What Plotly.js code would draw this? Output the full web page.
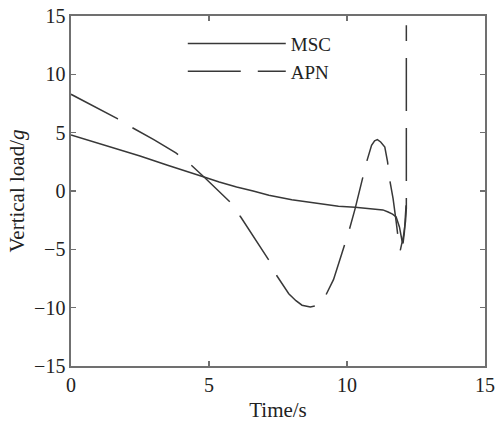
<!DOCTYPE html>
<html>
<head>
<meta charset="utf-8">
<script src="https://cdn.plot.ly/plotly-3.0.1.min.js"></script>
<style>html,body{margin:0;padding:0;background:#fff;}#chart{width:495px;height:422px;}</style>
</head>
<body>
<div id="chart"></div>
<script>
const mscTime = [0, 0.5, 1.0, 1.7, 2.5, 3.5, 4.2, 4.82, 5.37, 6.0, 6.6, 7.17, 8.0, 8.97, 9.69, 10.29, 10.89, 11.3, 11.49, 11.65, 11.78, 11.9, 11.99, 12.03, 12.08, 12.14];
const mscLoad = [4.8, 4.45, 4.1, 3.62, 3.0, 2.2, 1.7, 1.2, 0.77, 0.34, 0.0, -0.37, -0.75, -1.08, -1.3, -1.4, -1.51, -1.62, -1.8, -1.98, -2.23, -3.08, -4.22, -4.5, -3.5, -1.23];
const apnTime = [0, 0.8, 1.68, 2.18, 3.0, 3.8, 4.32, 4.82, 5.37, 5.76, 6.15, 6.65, 7.17, 7.47, 7.89, 8.15, 8.37, 8.67, 8.97, 9.23, 9.51, 9.81, 10.07, 10.29, 10.5, 10.71, 10.89, 11.0, 11.1, 11.22, 11.37, 11.47, 11.55, 11.67, 11.78, 11.85, 11.9, 11.93, 12.05, 12.12, 12.15, 12.15];
const apnLoad = [8.29, 7.3, 6.2, 5.48, 4.4, 3.26, 2.29, 1.2, -0.08, -0.94, -2.23, -4.0, -5.94, -7.31, -8.8, -9.4, -9.79, -9.94, -9.79, -8.94, -7.6, -5.37, -3.43, -1.55, 0.5, 2.49, 3.92, 4.3, 4.4, 4.2, 3.77, 2.5, 0.92, -0.65, -2.6, -4.22, -4.94, -5.1, -3.8, -2.6, -1.5, 14.2];
const seriesNames = ['MSC', 'APN'];
const yTickVals = [-15, -10, -5, 0, 5, 10, 15];
const yTickText = ['\u221215', '\u221210', '\u22125', '0', '5', '10', '15'];
const xTickVals = [0, 5, 10, 15];

const lineColor = '#383838';
const traces = [
  {x: mscTime, y: mscLoad, name: seriesNames[0], mode: 'lines', line: {color: lineColor, width: 1.5}},
  {x: apnTime, y: apnLoad, name: seriesNames[1], mode: 'lines', line: {color: lineColor, width: 1.5, dash: '53px,17px'}}
];
const axisCommon = {
  showline: true, linecolor: '#707070', linewidth: 1.6, mirror: 'ticks',
  ticks: 'inside', ticklen: 5, tickcolor: '#707070', tickwidth: 1.3,
  showgrid: false, zeroline: false, ticklabeloverflow: 'allow',
  tickfont: {family: 'Liberation Serif', size: 20, color: '#222'}
};
const layout = {
  width: 495, height: 422,
  margin: {l: 71, r: 10, t: 16, b: 56},
  paper_bgcolor: '#fff', plot_bgcolor: '#fff',
  showlegend: true,
  legend: {x: 0.27, y: 0.975, xanchor: 'left', yanchor: 'top', bgcolor: 'rgba(0,0,0,0)', borderwidth: 0,
    font: {family: 'Liberation Serif', size: 19, color: '#222'}, itemwidth: 98, tracegroupgap: 0},
  xaxis: Object.assign({}, axisCommon, {range: [0, 15], tickvals: xTickVals,
    title: {text: 'Time/s', font: {family: 'Liberation Serif', size: 21, color: '#222'}, standoff: 8}}),
  yaxis: Object.assign({}, axisCommon, {range: [-15, 15], tickvals: yTickVals, ticktext: yTickText,
    title: {text: 'Vertical load/<i>g</i>', font: {family: 'Liberation Serif', size: 21, color: '#222'}, standoff: 4}})
};
Plotly.newPlot('chart', traces, layout, {displayModeBar: false, staticPlot: true});
</script>
</body>
</html>
